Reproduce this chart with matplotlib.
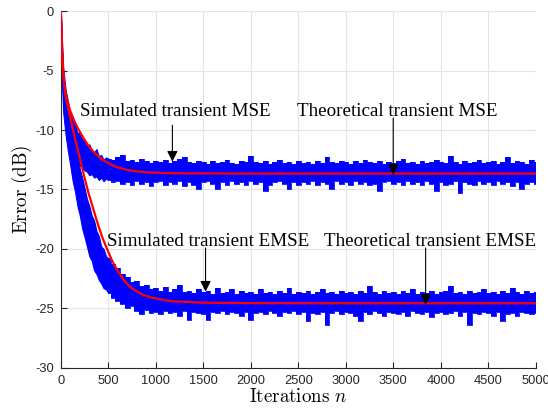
import matplotlib
matplotlib.use('Agg')
from matplotlib import pyplot as plt

plt.rcParams['font.family'] = ['Liberation Sans', 'DejaVu Sans']
plt.rcParams['mathtext.fontset'] = 'cm'
plt.rcParams['axes.unicode_minus'] = False

# Theoretical curves
theory_n = [0, 5, 10, 18, 25, 35, 50, 70, 95, 140, 182, 240, 288, 340, 393, 440,
            481, 540, 603, 670, 744, 850, 955, 1165, 1500, 2000, 3000, 5000]
theory_mse = [0, -1.5, -2.8, -4.2, -5.1, -6.1, -6.9, -7.6, -8.3, -9.2, -9.9, -10.7,
              -11.3, -11.8, -12.2, -12.5, -12.7, -12.95, -13.15, -13.3, -13.42,
              -13.52, -13.58, -13.63, -13.65, -13.66, -13.66, -13.66]
theory_emse = [0, -1.5, -2.8, -4.2, -5.1, -6.1, -7.1, -7.9, -8.8, -10.4, -11.8, -13.7,
               -15.2, -16.6, -18.0, -19.1, -19.9, -21.0, -21.9, -22.7, -23.3, -23.8,
               -24.1, -24.4, -24.52, -24.56, -24.57, -24.57]

# Simulated curves: upper / lower envelope of the noisy band
sim_n = [0, 10, 25, 50, 75, 100, 125, 150, 175, 200, 225, 250, 275, 300, 325, 350,
         375, 400, 425, 450, 475] + list(range(500, 5001, 50))

mse_hi = [0, -2.0, -4.8, -6.6, -7.6, -8.6, -9.0, -9.6, -10.3, -10.1, -10.8, -10.9,
          -11.4, -11.2, -11.7, -11.9, -11.6, -12.2, -12.1, -12.5, -12.3,
          -12.4, -12.5, -12.3, -12.1, -12.6, -12.5, -12.7, -12.4, -12.6, -12.8,
          -12.6, -12.7, -12.5, -12.8, -12.6, -12.4, -12.3, -12.7, -12.8, -12.6,
          -12.7, -12.9, -12.6, -12.8, -12.7, -12.5, -12.8, -12.9, -12.6, -12.7,
          -12.2, -12.7, -12.8, -12.6, -12.9, -12.7, -12.5, -12.8, -12.7, -12.9,
          -12.6, -12.8, -12.7, -12.9, -12.6, -12.8, -12.3, -12.7, -12.8, -12.6,
          -12.7, -12.9, -12.6, -12.8, -12.5, -12.7, -12.8, -12.6, -12.9, -12.7,
          -12.8, -12.6, -12.4, -12.8, -12.7, -12.9, -12.6, -12.8, -12.7, -12.5,
          -12.7, -12.8, -12.2, -12.7, -12.9, -12.6, -12.8, -12.7, -12.5, -12.8,
          -12.7, -12.6, -12.9, -12.7, -12.3, -12.8, -12.6, -12.7, -12.9, -12.5,
          -12.7]
mse_lo = [0, -4.5, -7.5, -9.3, -10.4, -11.3, -11.9, -12.3, -12.8, -13.0, -13.2, -13.4,
          -13.5, -13.8, -13.7, -14.0, -13.9, -14.2, -14.0, -14.3, -14.1,
          -14.2, -14.4, -14.3, -14.5, -14.4, -14.6, -14.3, -14.5, -14.4, -14.7,
          -14.4, -14.3, -14.6, -14.4, -14.5, -14.3, -14.7, -14.4, -14.6, -15.0,
          -14.4, -14.3, -14.5, -15.0, -14.4, -14.6, -14.3, -14.5, -14.4, -14.6,
          -14.3, -14.5, -14.4, -15.1, -14.6, -14.4, -14.3, -14.5, -15.0, -14.4,
          -14.6, -14.4, -14.5, -14.3, -14.6, -14.4, -14.5, -15.0, -14.3, -14.5,
          -14.4, -14.6, -14.3, -14.5, -14.4, -14.6, -14.5, -15.1, -14.4, -14.3,
          -14.5, -14.4, -14.6, -14.3, -14.5, -14.4, -14.6, -14.3, -14.5, -15.1,
          -14.4, -14.6, -14.5, -14.3, -15.3, -14.4, -14.5, -14.6, -14.3, -14.5,
          -14.4, -14.6, -14.3, -14.5, -14.4, -14.7, -14.4, -15.0, -14.5, -14.4,
          -14.5]

emse_hi = [0, -3.0, -5.8, -7.6, -8.6, -9.5, -10.4, -11.5, -12.4, -13.3, -14.0, -14.9,
           -15.8, -16.4, -17.2, -17.6, -18.5, -18.9, -19.8, -20.0, -20.6,
           -20.8, -21.3, -21.6, -22.1, -22.4, -22.8, -22.7, -23.1, -23.0, -23.4,
           -23.3, -23.5, -23.2, -23.6, -23.4, -23.0, -23.6, -23.5, -23.7, -23.4,
           -23.6, -23.5, -23.8, -23.3, -23.7, -23.6, -23.4, -23.8, -23.5, -23.7,
           -23.6, -23.8, -23.4, -23.7, -23.6, -23.8, -23.5, -23.7, -23.3, -23.8,
           -23.6, -23.7, -23.5, -23.8, -23.6, -23.4, -23.7, -23.6, -23.8, -23.5,
           -23.7, -23.6, -23.8, -23.5, -23.7, -23.1, -23.6, -23.8, -23.5, -23.7,
           -23.6, -23.8, -23.5, -23.7, -23.4, -23.8, -23.6, -23.7, -23.5, -23.8,
           -23.6, -23.5, -23.1, -23.7, -23.6, -23.8, -23.5, -23.7, -23.6, -23.4,
           -23.7, -23.6, -23.8, -23.5, -23.7, -23.3, -23.6, -23.8, -23.5, -23.7,
           -23.6]
emse_lo = [0, -5.5, -8.5, -10.4, -11.8, -13.0, -14.3, -15.2, -16.4, -17.2, -18.3, -19.0,
           -19.8, -20.6, -21.0, -21.8, -22.1, -22.6, -22.9, -23.3, -23.4,
           -23.7, -24.1, -24.4, -24.6, -25.0, -24.8, -25.2, -25.5, -25.1, -25.4,
           -25.3, -25.5, -25.2, -25.4, -25.3, -25.6, -25.2, -26.0, -25.3, -25.4,
           -25.5, -26.0, -25.3, -25.4, -25.2, -25.5, -25.3, -25.4, -25.6, -25.3,
           -26.0, -25.4, -25.3, -25.5, -25.2, -25.4, -25.6, -25.3, -25.4, -25.2,
           -25.5, -25.3, -26.1, -25.4, -25.5, -25.3, -26.4, -25.4, -25.2, -25.5,
           -25.3, -25.4, -25.6, -26.1, -25.3, -25.5, -25.2, -25.4, -25.6, -25.3,
           -25.4, -25.5, -25.3, -25.6, -25.2, -25.4, -25.5, -25.3, -25.7, -25.4,
           -25.3, -25.5, -25.4, -25.2, -25.6, -25.3, -26.4, -25.4, -25.5, -25.3,
           -25.4, -25.6, -25.3, -26.1, -25.5, -25.4, -25.6, -25.3, -25.4, -25.5,
           -25.4]

# annotations: label, text (n, dB), arrow tail, arrow tip
notes = [
    ('Simulated transient MSE', (1210, -8.85), (1174, -9.6), (1174, -12.66)),
    ('Theoretical transient MSE', (3537, -8.85), (3498, -9.0), (3498, -13.78)),
    ('Simulated transient EMSE', (1555, -19.75), (1523, -19.92), (1523, -23.59)),
    ('Theoretical transient EMSE', (3881, -19.75), (3839, -19.92), (3839, -24.71)),
]

fig = plt.figure(figsize=(5.48, 4.11), dpi=100)
ax = fig.add_axes([0.111, 0.105, 0.867, 0.868])

k = sim_n.index(500)
for hi, lo in [(mse_hi, mse_lo), (emse_hi, emse_lo)]:
    # transient part: plain band
    ax.fill_between(sim_n[:k + 1], hi[:k + 1], lo[:k + 1], color='blue', lw=0.8,
                    edgecolor='blue', zorder=2)
    # steady state: ragged noisy band
    ax.fill_between(sim_n[k:], hi[k:], lo[k:], color='blue', lw=0, step='mid',
                    zorder=2)
    ax.plot(sim_n[k:], hi[k:], color='blue', lw=0.6, drawstyle='steps-mid', zorder=2)
    ax.plot(sim_n[k:], lo[k:], color='blue', lw=0.6, drawstyle='steps-mid', zorder=2)

ax.plot(theory_n, theory_mse, color='red', lw=1.6, zorder=3)
ax.plot(theory_n, theory_emse, color='red', lw=1.6, zorder=3)

for label, txt, tail, tip in notes:
    ax.text(txt[0], txt[1], label, family='Liberation Serif', fontsize=13.7,
            ha='center', va='baseline', zorder=4)
    ax.annotate('', xy=tip, xytext=tail,
                arrowprops=dict(arrowstyle='-|>', color='black', lw=0.8,
                                mutation_scale=16, shrinkA=0, shrinkB=0))

ax.set_xlim(0, 5000)
ax.set_ylim(-30, 0)
ax.set_xticks(range(0, 5001, 500))
ax.set_yticks(range(-30, 1, 5))
ax.grid(True, color='#e3e3e3', lw=0.8)
ax.set_axisbelow(True)
ax.spines['top'].set_visible(False)
ax.spines['right'].set_visible(False)
ax.spines['left'].set_color('#262626')
ax.spines['bottom'].set_color('#262626')
ax.tick_params(direction='in', length=4, labelsize=9.3, colors='#262626', pad=5)
ax.set_xlabel(r'$\mathrm{Iterations}\ n$', fontsize=13.7, labelpad=1)
ax.set_ylabel(r'$\mathrm{Error\ (dB)}$', fontsize=13.7, labelpad=1)

fig.savefig('out.png', dpi=100)
